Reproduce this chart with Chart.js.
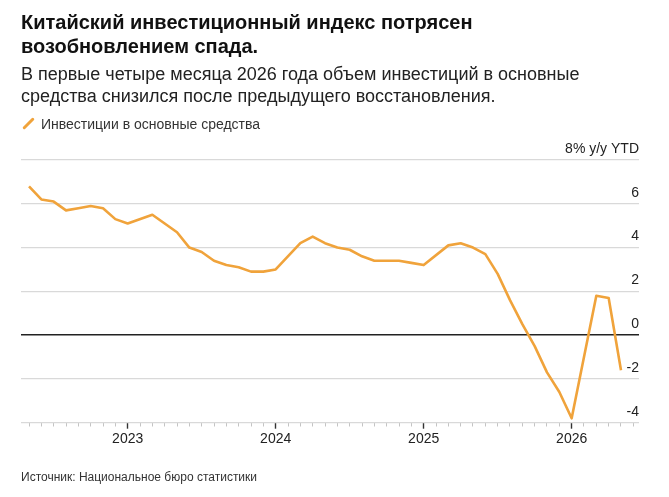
<!DOCTYPE html>
<html>
<head>
<meta charset="utf-8">
<script src="https://cdn.jsdelivr.net/npm/chart.js@4.4.1/dist/chart.umd.min.js"></script>
<style>
  html, body { margin: 0; padding: 0; background: #fff; }
  body { width: 669px; height: 497px; position: relative; overflow: hidden; font-family: "Liberation Sans", Arial, Helvetica, sans-serif; }
  #c { position: absolute; left: 0; top: 0; }
  .t { position: absolute; white-space: nowrap; }
  .title { left: 21px; font-size: 20px; line-height: 24px; font-weight: bold; color: #111; }
  .sub { left: 21px; font-size: 18px; line-height: 22px; color: #222; }
  .leg { left: 41px; top: 115.5px; font-size: 14px; line-height: 16px; color: #333; }
  .legicon { position: absolute; left: 20.5px; top: 122px; width: 15px; height: 3px; background: #F0A33B; border-radius: 2px; transform: rotate(-45deg); transform-origin: center; }
  .src { left: 21px; top: 469.5px; font-size: 12px; line-height: 14px; color: #333; }
</style>
</head>
<body>
<canvas id="c" width="669" height="497"></canvas>
<div class="t title" style="top:10.4px">Китайский инвестиционный индекс потрясен</div>
<div class="t title" style="top:34.4px">возобновлением спада.</div>
<div class="t sub" style="top:62.8px">В первые четыре месяца 2026 года объем инвестиций в основные</div>
<div class="t sub" style="top:84.8px">средства снизился после предыдущего восстановления.</div>
<div class="legicon"></div>
<div class="t leg">Инвестиции в основные средства</div>
<div class="t src">Источник: Национальное бюро статистики</div>
<script>
// Data (year-to-date, % y/y), monthly; January is reported together with February
const months = [
  '2022-04','2022-05','2022-06','2022-07','2022-08','2022-09','2022-10','2022-11','2022-12',
  '2023-02','2023-03','2023-04','2023-05','2023-06','2023-07','2023-08','2023-09','2023-10','2023-11','2023-12',
  '2024-02','2024-03','2024-04','2024-05','2024-06','2024-07','2024-08','2024-09','2024-10','2024-11','2024-12',
  '2025-02','2025-03','2025-04','2025-05','2025-06','2025-07','2025-08','2025-09','2025-10','2025-11','2025-12',
  '2026-02','2026-03','2026-04'
];
const investment = [
  6.8, 6.2, 6.1, 5.7, 5.8, 5.9, 5.8, 5.3, 5.1,
  5.5, 5.1, 4.7, 4.0, 3.8, 3.4, 3.2, 3.1, 2.9, 2.9, 3.0,
  4.2, 4.5, 4.2, 4.0, 3.9, 3.6, 3.4, 3.4, 3.4, 3.3, 3.2,
  4.1, 4.2, 4.0, 3.7, 2.8, 1.6, 0.5, -0.5, -1.7, -2.6, -3.8,
  1.8, 1.7, -1.6
];
const seriesLabel = 'Инвестиции в основные средства';
const yearTicks = ['2023', '2024', '2025', '2026'];
const yTicks = [-4, -2, 0, 2, 4, 6, 8];
const yTopLabel = '8% y/y YTD';
const baseYear = 2022;

// month-end position: months elapsed since Jan 1 of baseYear
const toPos = s => { const [y, m] = s.split('-').map(Number); return (y - baseYear) * 12 + m; };
const points = months.map((m, i) => ({ x: toPos(m), y: investment[i] }));
const yearPos = yearTicks.map(y => (Number(y) - baseYear) * 12);
const monthTicks = [];
for (let v = 4; v <= 53; v++) monthTicks.push(v);

const FONT = '"Liberation Sans", Arial, Helvetica, sans-serif';
const isMajor = ctx => ctx.tick && yearPos.includes(ctx.tick.value);

new Chart(document.getElementById('c'), {
  type: 'line',
  data: {
    datasets: [{
      label: seriesLabel,
      data: points,
      borderColor: '#F0A33B',
      borderWidth: 2.6,
      pointRadius: 0,
      tension: 0,
      borderJoinStyle: 'round',
      fill: false
    }]
  },
  options: {
    responsive: false,
    animation: false,
    events: [],
    layout: { padding: { top: 160, left: 21, right: 30, bottom: 47.5 } },
    plugins: { legend: { display: false }, tooltip: { enabled: false } },
    scales: {
      x: {
        type: 'linear',
        min: 3.35,
        max: 53.46,
        afterBuildTicks: s => { s.ticks = monthTicks.map(v => ({ value: v })); },
        grid: {
          drawOnChartArea: false,
          drawTicks: true,
          tickLength: 6,
          tickColor: ctx => isMajor(ctx) ? '#333' : '#c4c4c4',
          tickWidth: ctx => isMajor(ctx) ? 1.4 : 1,
          tickBorderDash: ctx => isMajor(ctx) ? [] : [3.5, 20]
        },
        border: { display: false },
        ticks: {
          autoSkip: false,
          maxRotation: 0,
          padding: 2,
          color: '#222',
          font: { family: FONT, size: 14 },
          callback: v => { const i = yearPos.indexOf(v); return i >= 0 ? yearTicks[i] : ''; }
        }
      },
      y: {
        position: 'right',
        min: -4,
        max: 8,
        afterBuildTicks: s => { s.ticks = yTicks.map(v => ({ value: v })); },
        grid: {
          drawTicks: false,
          color: ctx => ctx.tick && ctx.tick.value === 0 ? '#222' : '#d9d9d9',
          lineWidth: ctx => ctx.tick && ctx.tick.value === 0 ? 1.5 : 1.2
        },
        border: { display: false },
        ticks: {
          mirror: true,
          padding: 0,
          labelOffset: -11,
          color: '#222',
          font: { family: FONT, size: 14 },
          callback: v => v === 8 ? yTopLabel : String(v)
        }
      }
    }
  }
});
</script>
</body>
</html>
